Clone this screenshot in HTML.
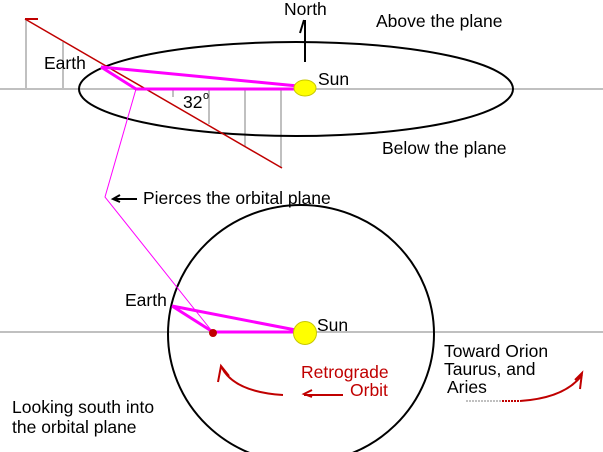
<!DOCTYPE html>
<html><head><style>body{margin:0;background:#fff}svg{display:block}text{font-family:"Liberation Sans",sans-serif;font-size:17.5px;fill:#000}</style></head><body>
<svg width="603" height="452" viewBox="0 0 603 452">
<g stroke="#c0c0c0" stroke-width="2" fill="none">
<line x1="0" y1="89" x2="603" y2="89"/>
<line x1="0" y1="332" x2="603" y2="332"/>
<line x1="26" y1="19" x2="26" y2="89"/>
<line x1="63" y1="42" x2="63" y2="89"/>
<line x1="173" y1="89" x2="173" y2="97"/>
<line x1="209" y1="89" x2="209" y2="124"/>
<line x1="245" y1="89" x2="245" y2="146"/>
<line x1="281" y1="89" x2="281" y2="168"/>
</g>
<ellipse cx="296" cy="89" rx="217" ry="47" fill="none" stroke="#000" stroke-width="2"/>
<ellipse cx="301" cy="334" rx="133" ry="129" fill="none" stroke="#000" stroke-width="2"/>
<line x1="305" y1="62" x2="305" y2="20" stroke="#000" stroke-width="2"/>
<path d="M300,33 L304,20" fill="none" stroke="#000" stroke-width="2"/>
<line x1="25" y1="19" x2="282" y2="168" stroke="#c00000" stroke-width="1.5"/>
<line x1="25" y1="19" x2="38" y2="19" stroke="#c00000" stroke-width="2"/>
<g stroke="#ff00ff" fill="none">
<polyline points="136,89 105,197 211,330" stroke-width="1"/>
<path d="M101,67 L298,86 M101,67 L136,89 L298,89" stroke-width="3"/>
<path d="M172,306 L306,332 M172,306 L213,332 L306,332" stroke-width="3"/>
</g>
<ellipse cx="305" cy="88" rx="11" ry="8" fill="#ffff00" stroke="#c8c800"/>
<circle cx="305" cy="333" r="11.5" fill="#ffff00" stroke="#c8c800"/>
<circle cx="213" cy="333" r="4" fill="#c00000"/>
<line x1="113" y1="199" x2="137" y2="199" stroke="#000" stroke-width="2"/>
<path d="M120,195 L113,199 L120,202" fill="none" stroke="#000" stroke-width="2"/>
<g stroke="#c00000" stroke-width="2" fill="none">
<path d="M283,395 Q235,392 222,368"/>
<path d="M218,382 L221,366 L229,376"/>
<line x1="304" y1="395" x2="343" y2="395"/>
<path d="M312,390 L304,394 L312,397"/>
<path d="M520,401 Q565,398 582,375"/>
<path d="M575,380 L582,373 L580,389"/>
<line x1="502" y1="401" x2="520" y2="401" stroke-dasharray="2,1"/>
</g>
<line x1="466" y1="401" x2="502" y2="401" stroke="#c0c0c0" stroke-width="2" stroke-dasharray="2,1"/>
<text x="284" y="15">North</text>
<text x="376" y="27">Above the plane</text>
<text x="382" y="154">Below the plane</text>
<text x="44" y="69">Earth</text>
<text x="318" y="85">Sun</text>
<text x="183" y="108">32</text><text x="203" y="99" style="font-size:11px">o</text>
<text x="143" y="204">Pierces the orbital plane</text>
<text x="125" y="306">Earth</text>
<text x="317" y="331">Sun</text>
<text x="444" y="357">Toward Orion</text>
<text x="444" y="375">Taurus, and</text>
<text x="447" y="393">Aries</text>
<text x="301" y="378" style="fill:#c00000">Retrograde</text>
<text x="350" y="396" style="fill:#c00000">Orbit</text>
<text x="12" y="413">Looking south into</text>
<text x="12" y="433">the orbital plane</text>
</svg>
</body></html>
